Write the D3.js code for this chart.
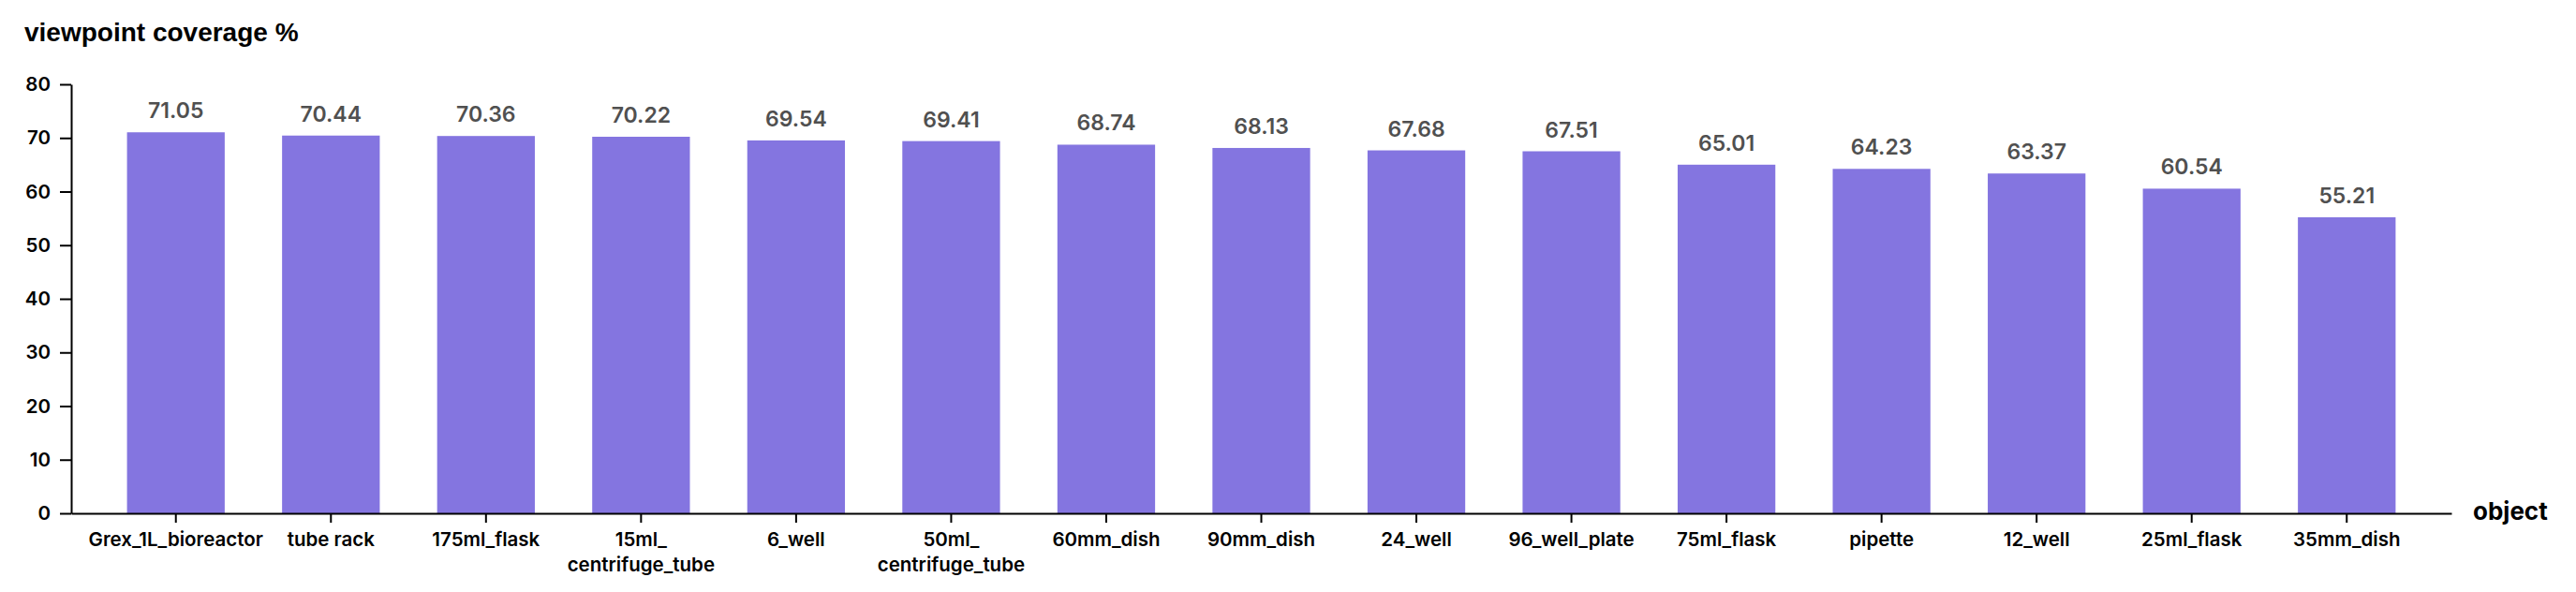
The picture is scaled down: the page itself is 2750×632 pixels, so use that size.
<!DOCTYPE html>
<html lang="en">
<head>
    <meta charset="UTF-8">
    <title>viewpoint coverage</title>
    <script src="https://cdn.jsdelivr.net/npm/d3@7"></script>
    <style>
        body{ margin:0; background:#fff; }
        .axis text{ font-family: Inter, sans-serif; font-size:20.5px; font-weight:600; fill:#000; }
        .axis path, .axis line{ stroke:#000; stroke-width:2px; }
        .val{ font-family: Inter, sans-serif; font-size:23px; font-weight:600; fill:#505050; }
    </style>
</head>
<body>
<svg id="chart" width="2750" height="632"></svg>
<script>
// data
let objects=["Grex_1L_bioreactor","tube rack","175ml_flask","15ml_centrifuge_tube","6_well","50ml_centrifuge_tube","60mm_dish","90mm_dish","24_well","96_well_plate","75ml_flask","pipette","12_well","25ml_flask","35mm_dish"]
let coverage=[71.05,70.44,70.36,70.22,69.54,69.41,68.74,68.13,67.68,67.51,65.01,64.23,63.37,60.54,55.21]
// how the long names wrap under the axis
let tickLabels=["Grex_1L_bioreactor","tube rack","175ml_flask","15ml_\ncentrifuge_tube","6_well","50ml_\ncentrifuge_tube","60mm_dish","90mm_dish","24_well","96_well_plate","75ml_flask","pipette","12_well","25ml_flask","35mm_dish"]
let yTicks=[0,10,20,30,40,50,60,70,80]

let plotLeft=76, plotRight=2617, plotTop=90, plotBottom=548
let svg=d3.select("#chart")

let xScale=d3.scaleBand().domain(objects).range([plotLeft,plotRight]).paddingInner(0.37).paddingOuter(0.36)
let yScale=d3.scaleLinear().domain([0,80]).range([plotBottom,plotTop])

svg.append("g").selectAll("rect").data(objects).join("rect")
    .attr("x",d=>xScale(d))
    .attr("width",xScale.bandwidth())
    .attr("y",(d,i)=>yScale(coverage[i]))
    .attr("height",(d,i)=>plotBottom-yScale(coverage[i]))
    .attr("fill","#8475e0")

svg.append("g").selectAll("text").data(objects).join("text")
    .attr("class","val")
    .attr("x",d=>xScale(d)+xScale.bandwidth()/2)
    .attr("y",(d,i)=>yScale(coverage[i])-15)
    .attr("text-anchor","middle")
    .text((d,i)=>coverage[i].toFixed(2))

let yAxis=svg.append("g").attr("class","axis").attr("transform","translate("+plotLeft+",0)")
    .call(d3.axisLeft(yScale).tickValues(yTicks).tickSize(12).tickSizeOuter(0).tickPadding(10))

let xAxis=svg.append("g").attr("class","axis").attr("transform","translate(0,"+plotBottom+")")
    .call(d3.axisBottom(xScale).tickSize(10).tickSizeOuter(0).tickPadding(8).tickFormat(""))

xAxis.selectAll(".tick").append("text")
    .attr("text-anchor","middle")
    .attr("fill","#000")
    .each(function(d,i){
        let lines=tickLabels[i].split("\n")
        d3.select(this).selectAll("tspan").data(lines).join("tspan")
            .attr("x",0)
            .attr("y",(l,j)=>35+j*27)
            .text(l=>l)
    })

svg.append("text").attr("x",26).attr("y",44)
    .style("font-family","'Liberation Sans', Arial, sans-serif").style("font-weight","bold").style("font-size","28px")
    .text("viewpoint coverage %")

svg.append("text").attr("x",2640).attr("y",555)
    .style("font-family","Inter, sans-serif").style("font-weight","700").style("font-size","26px")
    .text("object")
</script>
</body>
</html>
